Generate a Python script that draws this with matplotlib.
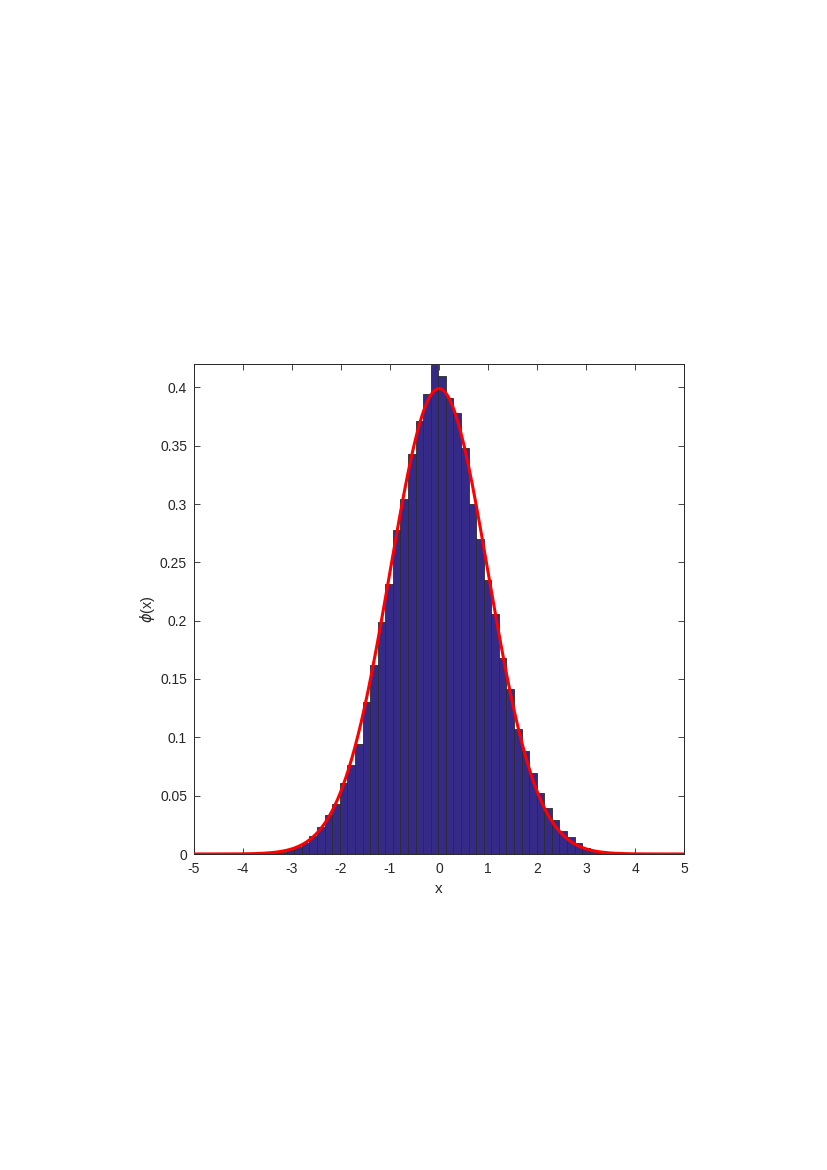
import numpy as np
import matplotlib
matplotlib.use("Agg")
import matplotlib.pyplot as plt

# Histogram data
first_edge = -3.571
bin_width = 0.1546
bar_heights = [0.0005, 0.001, 0.002, 0.0034, 0.0057, 0.0097, 0.0155, 0.0229,
               0.0335, 0.043, 0.061, 0.0764, 0.0944, 0.1305, 0.162, 0.1988,
               0.2316, 0.278, 0.304, 0.3425, 0.3714, 0.3943, 0.419, 0.4097,
               0.3906, 0.3782, 0.3478, 0.3002, 0.2701, 0.2352, 0.2055, 0.1683,
               0.1415, 0.1073, 0.0886, 0.0693, 0.052, 0.0393, 0.029, 0.02,
               0.0143, 0.0092, 0.0053, 0.0035, 0.0022, 0.001]

# Normal pdf curve parameters
mu = 0.0
sigma = 1.0
x_range = (-5, 5)

x_ticks = [-5, -4, -3, -2, -1, 0, 1, 2, 3, 4, 5]
x_tick_labels = ["-5", "-4", "-3", "-2", "-1", "0", "1", "2", "3", "4", "5"]
y_ticks = [0, 0.05, 0.1, 0.15, 0.2, 0.25, 0.3, 0.35, 0.4]
y_tick_labels = ["0", "0.05", "0.1", "0.15", "0.2", "0.25", "0.3", "0.35", "0.4"]

plt.rcParams['font.family'] = ['Liberation Sans', 'DejaVu Sans']
plt.rcParams['mathtext.fontset'] = 'dejavusans'

fig = plt.figure(figsize=(8.27, 11.70), dpi=100)
ax = fig.add_axes([194/827, 1 - 854/1170, 490/827, 490/1170])

axcol = '#262626'
lefts = first_edge + bin_width * np.arange(len(bar_heights))
ax.bar(lefts, bar_heights, width=bin_width, align='edge',
       color='#352A87', edgecolor='#2b2b2b', linewidth=0.6, zorder=2)

xs = np.linspace(x_range[0], x_range[1], 1000)
pdf = np.exp(-0.5 * ((xs - mu) / sigma) ** 2) / (sigma * np.sqrt(2 * np.pi))
ax.plot(xs, pdf, color='#FF0000', linewidth=2.2, zorder=3)

ax.set_xlim(-5, 5)
ax.set_ylim(0, 0.42)
ax.set_xticks(x_ticks)
ax.set_xticklabels(x_tick_labels)
ax.set_yticks(y_ticks)
ax.set_yticklabels(y_tick_labels)
ax.tick_params(direction='in', length=4, width=0.6, colors=axcol,
               labelsize=10, top=True, right=True)
ax.tick_params(axis='x', pad=6)
ax.tick_params(axis='y', pad=5)
for s in ax.spines.values():
    s.set_color(axcol)
    s.set_linewidth(0.7)

ax.set_xlabel('x', fontsize=11, color=axcol, labelpad=4)
ax.set_ylabel(r'$\phi$(x)', fontsize=10.5, color=axcol, labelpad=2)

fig.savefig('out.png', dpi=100)
